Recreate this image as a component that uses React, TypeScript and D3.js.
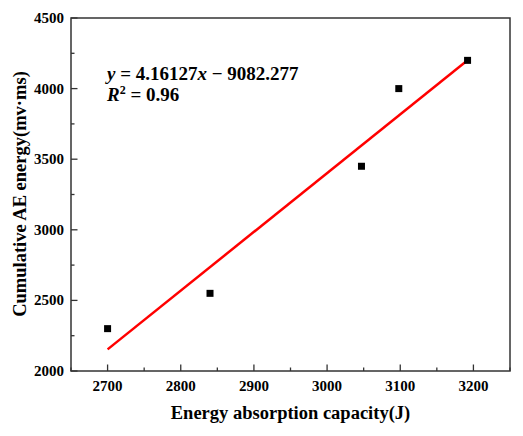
import React from "react";
import * as d3 from "d3";

const energyAbsorption = [2700, 2840, 3047, 3098, 3192];
const cumulativeAE = [2300, 2550, 3450, 4000, 4200];
const fitSlope = 4.16127;
const fitIntercept = -9082.277;
const xTicks = [2700, 2800, 2900, 3000, 3100, 3200];
const yTicks = [2000, 2500, 3000, 3500, 4000, 4500];

const W = 523, H = 436;
const m = { left: 71, top: 18, right: 13, bottom: 65 };
const FONT = "Liberation Serif, serif";

export default function App() {
  const x = d3.scaleLinear().domain([2650, 3250]).range([m.left, W - m.right]);
  const y = d3.scaleLinear().domain([2000, 4500]).range([H - m.bottom, m.top]);
  const x0 = d3.min(energyAbsorption)!, x1 = d3.max(energyAbsorption)!;
  const fit = d3.line<number>().x(d => x(d)).y(d => y(fitSlope * d + fitIntercept));
  const xMinor = d3.range(2650, 3251, 50).filter(v => v % 100 !== 0);
  const yMinor = d3.range(2250, 4500, 500);
  const bottom = H - m.bottom;
  const ts = { fontFamily: FONT, fontWeight: 700 as const };
  return (
    <svg width={W} height={H} style={{ position: "absolute", left: 0, top: 0, background: "#fff" }}>
      <rect x={m.left} y={m.top} width={W - m.left - m.right} height={bottom - m.top} fill="none" stroke="#333" strokeWidth={1.5} />
      {xTicks.map(t => (
        <g key={"xt" + t}>
          <line x1={x(t)} x2={x(t)} y1={bottom} y2={bottom - 6.5} stroke="#333" strokeWidth={1.3} />
          <text x={x(t)} y={bottom + 20} textAnchor="middle" fontSize={15} style={ts}>{t}</text>
        </g>
      ))}
      {xMinor.map(t => (
        <line key={"xm" + t} x1={x(t)} x2={x(t)} y1={bottom} y2={bottom - 3.5} stroke="#333" strokeWidth={1.3} />
      ))}
      {yTicks.map(t => (
        <g key={"yt" + t}>
          <line x1={m.left} x2={m.left + 6.5} y1={y(t)} y2={y(t)} stroke="#333" strokeWidth={1.3} />
          <text x={m.left - 7} y={y(t) + 5} textAnchor="end" fontSize={15} style={ts}>{t}</text>
        </g>
      ))}
      {yMinor.map(t => (
        <line key={"ym" + t} x1={m.left} x2={m.left + 3.5} y1={y(t)} y2={y(t)} stroke="#333" strokeWidth={1.3} />
      ))}
      <path d={fit([x0, x1]) || ""} fill="none" stroke="#ff0000" strokeWidth={2.5} />
      {energyAbsorption.map((v, i) => (
        <rect key={"p" + i} x={x(v) - 3.5} y={y(cumulativeAE[i]) - 3.5} width={7} height={7} fill="#000" />
      ))}
      <text x={107} y={80} fontSize={19} style={ts}>
        <tspan fontStyle="italic">y</tspan> = 4.16127<tspan fontStyle="italic">x</tspan> − 9082.277
      </text>
      <text x={107} y={101} fontSize={19} style={ts}>
        <tspan fontStyle="italic">R</tspan><tspan fontSize={12} dy={-7}>2</tspan><tspan dy={7}> = 0.96</tspan>
      </text>
      <text x={(m.left + W - m.right) / 2} y={419} textAnchor="middle" fontSize={18.5} style={ts}>Energy absorption capacity(J)</text>
      <text transform={`translate(26, 194) rotate(-90)`} textAnchor="middle" fontSize={18.5} style={ts}>Cumulative AE energy(mv·ms)</text>
    </svg>
  );
}
